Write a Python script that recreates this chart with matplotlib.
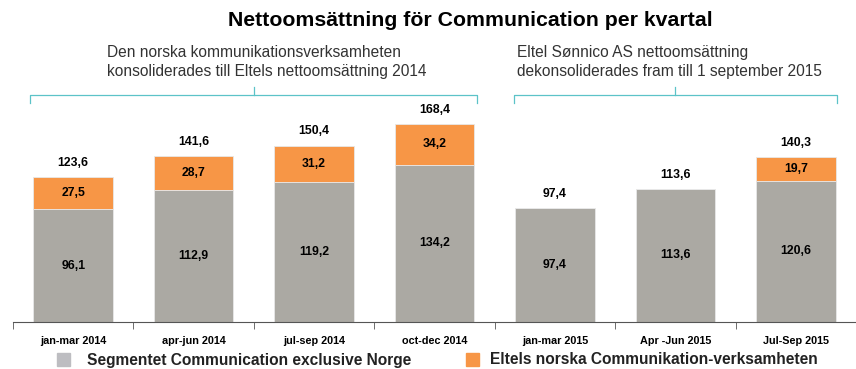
import matplotlib.pyplot as plt
import numpy as np

categories = ['jan-mar 2014', 'apr-jun 2014', 'jul-sep 2014', 'oct-dec 2014',
              'jan-mar 2015', 'Apr -Jun 2015', 'Jul-Sep 2015']
segment = [96.1, 112.9, 119.2, 134.2, 97.4, 113.6, 120.6]
norska = [27.5, 28.7, 31.2, 34.2, 0.0, 0.0, 19.7]
totals = [123.6, 141.6, 150.4, 168.4, 97.4, 113.6, 140.3]

gray = '#aba9a3'
orange = '#f79646'
teal = '#5cc3c8'
sans = ['Liberation Sans', 'DejaVu Sans']

fmt = lambda v: f'{v:.1f}'.replace('.', ',')

fig = plt.figure(figsize=(8.56, 3.69), dpi=100)
ax = fig.add_axes([13 / 856, 47 / 369, 843 / 856, 0.9 - 47 / 369])

x = np.arange(len(categories))
ax.bar(x, segment, width=0.66, color=gray, edgecolor='#e8e8e8', linewidth=0.6)
ax.bar(x, norska, bottom=segment, width=0.66, color=orange, edgecolor='#e8e8e8', linewidth=0.6)

lab = dict(ha='center', va='center', fontsize=8.8, fontweight='bold', family=sans)
for i in x:
    ax.text(i, segment[i] / 2, fmt(segment[i]), **lab)
    if norska[i] > 0:
        ax.text(i, segment[i] + norska[i] / 2, fmt(norska[i]), **lab)
    ax.text(i, totals[i] + 12, fmt(totals[i]), **lab)

ax.set_xlim(-0.5, 6.5)
ax.set_ylim(0, 243)
for s in ['top', 'right', 'left']:
    ax.spines[s].set_visible(False)
ax.spines['bottom'].set_color('#555555')
ax.spines['bottom'].set_linewidth(0.8)
ax.set_yticks([])
ax.set_xticks(x)
ax.set_xticklabels(categories, fontsize=7.8, family=sans, fontweight='bold')
ax.tick_params(axis='x', which='major', length=0, pad=10)
ax.set_xticks(np.arange(-0.5, 7, 1), minor=True)
ax.tick_params(axis='x', which='minor', length=5, direction='out', color='#555555')

# brackets over the two periods
def bracket(x0, x1, xc):
    yb, ye, yt = 193.5, 186.7, 200.3
    ax.plot([x0, x0, x1, x1], [ye, yb, yb, ye], color=teal, lw=0.9, clip_on=False)
    ax.plot([xc, xc], [yb, yt], color=teal, lw=0.9, clip_on=False)

bracket(-0.36, 3.35, 1.5)
bracket(3.66, 6.34, 5.0)

fig.text(470 / 856, 1 - 21 / 369, 'Nettoomsättning för Communication per kvartal',
         ha='center', va='center', fontsize=15.3, fontweight='bold', family=sans)
fig.text(107 / 856, 1 - 62 / 369,
         'Den norska kommunikationsverksamheten\nkonsoliderades till Eltels nettoomsättning 2014',
         ha='left', va='center', fontsize=11.2, family=sans, color='#333333', linespacing=1.3)
fig.text(517 / 856, 1 - 62 / 369,
         'Eltel Sønnico AS nettoomsättning\ndekonsoliderades fram till 1 september 2015',
         ha='left', va='center', fontsize=11.2, family=sans, color='#333333', linespacing=1.3)

# legend
fig.patches.append(plt.Rectangle((57 / 856, 1 - 366 / 369), 13 / 856, 13 / 369,
                                 transform=fig.transFigure, color='#bdbdc1'))
fig.text(87 / 856, 1 - 360 / 369, 'Segmentet Communication exclusive Norge',
         ha='left', va='center', fontsize=11.2, fontweight='bold', family=sans, color='#222222')
fig.patches.append(plt.Rectangle((466 / 856, 1 - 366 / 369), 13 / 856, 13 / 369,
                                 transform=fig.transFigure, color=orange))
fig.text(490 / 856, 1 - 360 / 369, 'Eltels norska Communikation-verksamheten',
         ha='left', va='center', fontsize=11.2, fontweight='bold', family=sans, color='#222222')

plt.savefig('out.png', dpi=100)
